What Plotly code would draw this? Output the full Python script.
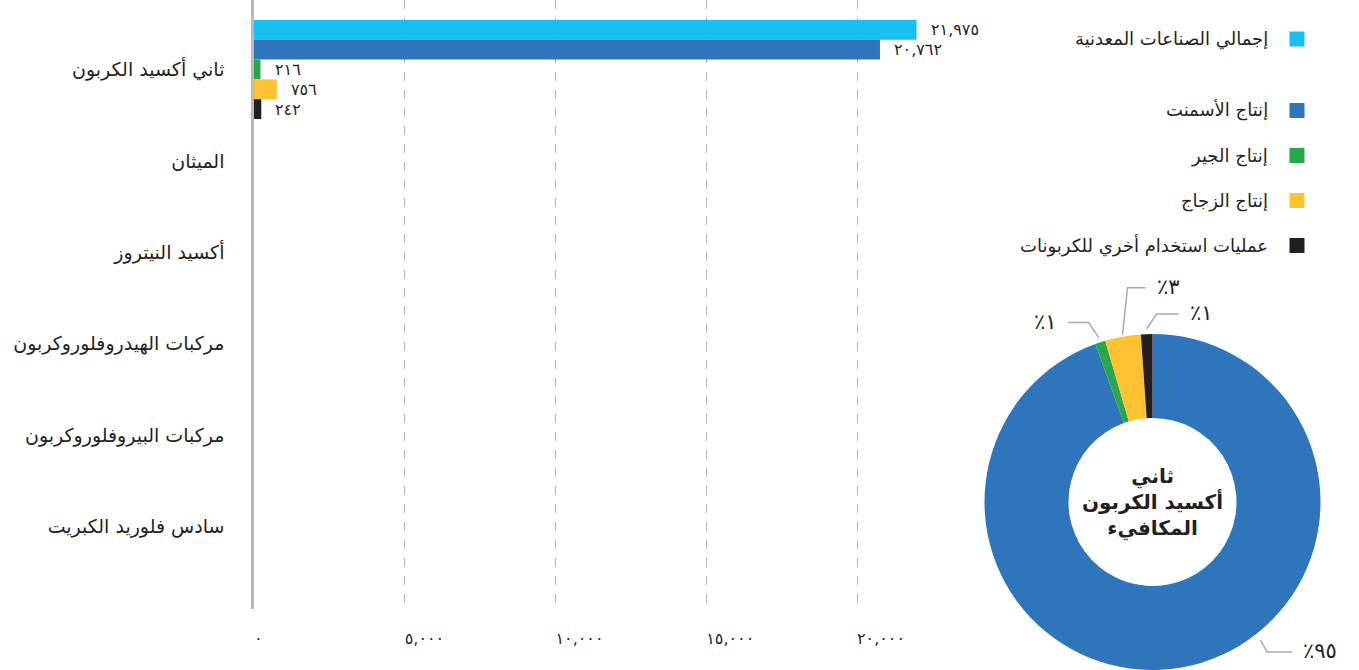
import math
import plotly.graph_objects as go

# ---------------- data ----------------
categories = [
    "ثاني أكسيد الكربون",
    "الميثان",
    "أكسيد النيتروز",
    "مركبات الهيدروفلوروكربون",
    "مركبات البيروفلوروكربون",
    "سادس فلوريد الكبريت",
]
series_names = [
    "إجمالي الصناعات المعدنية",
    "إنتاج الأسمنت",
    "إنتاج الجير",
    "إنتاج الزجاج",
    "عمليات استخدام أخري للكربونات",
]
total_values = [21975, None, None, None, None, None]
cement_values = [20762, None, None, None, None, None]
lime_values = [216, None, None, None, None, None]
glass_values = [756, None, None, None, None, None]
other_values = [242, None, None, None, None, None]

x_tick_values = [0, 5000, 10000, 15000, 20000]
x_tick_labels = ["٠", "٥,٠٠٠", "١٠,٠٠٠", "١٥,٠٠٠", "٢٠,٠٠٠"]

pie_labels = series_names[1:]
pie_values = [cement_values[0], lime_values[0], glass_values[0], other_values[0]]
pie_pct_text = ["٪٩٥", "٪١", "٪٣", "٪١"]
center_text = "ثاني<br>أكسيد الكربون<br>المكافيء"

# ---------------- styles ----------------
W, H = 1359, 670
FONT = "DejaVu Sans"
TXT = "#231f20"
colors = ["#17c0f0", "#2e75bb", "#27a84a", "#fec231", "#231f20"]
all_series = [total_values, cement_values, lime_values, glass_values, other_values]

AR_DIGITS = str.maketrans("0123456789", "٠١٢٣٤٥٦٧٨٩")


def ar_num(v):
    return f"{v:,}".translate(AR_DIGITS)


def px(x, y):
    return x / W, 1 - y / H


# bar geometry (in category units)
unit_px = 91.4
bw = 19.8 / unit_px
off0 = (20 - 69.5) / unit_px

fig = go.Figure()

annotations = []
shapes = []

for k, (name, vals, col) in enumerate(zip(series_names, all_series, colors)):
    off = off0 + k * bw
    fig.add_trace(go.Bar(
        y=categories, x=vals, orientation="h", name=name,
        offset=off, width=bw,
        marker=dict(color=col, line=dict(width=0)),
        showlegend=False, xaxis="x", yaxis="y",
    ))
    for i, v in enumerate(vals):
        if v is None:
            continue
        annotations.append(dict(
            x=v, y=i + off + bw / 2, xref="x", yref="y",
            text=ar_num(v), showarrow=False, xanchor="left", yanchor="middle",
            xshift=12, font=dict(family=FONT, size=16, color=TXT),
        ))

# ---------------- pie ----------------
cx, cy, R = 1152.5, 502.0, 168.0
fig.add_trace(go.Pie(
    values=pie_values, labels=pie_labels, hole=0.5, sort=False,
    direction="clockwise", rotation=0,
    marker=dict(colors=colors[1:], line=dict(width=0)),
    textinfo="none", showlegend=False,
    domain=dict(x=[(cx - R) / W, (cx + R) / W], y=[0, 1 - (cy - R) / H]),
))

annotations.append(dict(
    x=px(cx, cy)[0], y=px(cx, cy)[1], xref="paper", yref="paper",
    text="<b>" + center_text + "</b>", showarrow=False,
    xanchor="center", yanchor="middle",
    font=dict(family=FONT, size=20, color=TXT),
))

# leader lines & percent labels
tot = sum(pie_values)
cum = 0
mids = []
for v in pie_values:
    mids.append((cum + v / 2) / tot * 360)
    cum += v
# per-slice label styling: (angle override, radial extra, elbow dx, dy, run, side)
label_style = [
    (142, 7, 7, 12, 25, 1),
    (None, 5, -10, -15, -21, -1),
    (None, 2, 5, -47, 18, 1),
    (None, 5, 10, -15, 22, 1),
]
for i, (ang, extra, ex, ey, run, side) in enumerate(label_style):
    th = math.radians(ang if ang is not None else mids[i])
    sx = cx + (R + extra) * math.sin(th)
    sy = cy - (R + extra) * math.cos(th)
    ex_, ey_ = sx + ex, sy + ey
    fx, fy = ex_ + run, ey_
    p0, p1, p2 = px(sx, sy), px(ex_, ey_), px(fx, fy)
    shapes.append(dict(
        type="path", xref="paper", yref="paper",
        path=f"M {p0[0]} {p0[1]} L {p1[0]} {p1[1]} L {p2[0]} {p2[1]}",
        line=dict(color="#a9a9a9", width=1.5), layer="above",
    ))
    tp = px(fx + 9 * side, fy - 1)
    annotations.append(dict(
        x=tp[0], y=tp[1], xref="paper", yref="paper", text=pie_pct_text[i],
        showarrow=False, xanchor="left" if side > 0 else "right",
        yanchor="middle", font=dict(family=FONT, size=21, color=TXT),
    ))

# ---------------- custom legend (RTL) ----------------
legend_y = [39, 110.5, 155.5, 200.5, 245.5]
for name, col, ly in zip(series_names, colors, legend_y):
    a, b = px(1289.5, ly - 7.5)
    c, d = px(1304.5, ly + 7.5)
    shapes.append(dict(type="rect", xref="paper", yref="paper",
                       x0=a, y0=b, x1=c, y1=d,
                       fillcolor=col, line=dict(width=0)))
    t = px(1270, ly)
    annotations.append(dict(
        x=t[0], y=t[1], xref="paper", yref="paper", text=name,
        showarrow=False, xanchor="right", yanchor="middle",
        font=dict(family=FONT, size=18, color=TXT),
    ))

x_left, x_right = 254, 960
x_max = (x_right - x_left) / (857 - 254) * 20000
y_bottom = 609
fig.update_layout(
    width=W, height=H,
    margin=dict(l=0, r=0, t=0, b=0),
    paper_bgcolor="white", plot_bgcolor="white",
    barmode="overlay",
    showlegend=False,
    font=dict(family=FONT, color=TXT),
    xaxis=dict(
        domain=[x_left / W, x_right / W], range=[0, x_max],
        tickvals=x_tick_values, ticktext=x_tick_labels,
        ticklabelposition="outside right", ticklabelstandoff=18,
        tickfont=dict(family=FONT, size=16, color=TXT),
        showgrid=True, gridcolor="#b5b5b5", griddash="dash", gridwidth=1,
        zeroline=False, showline=False, ticks="", automargin=False,
    ),
    yaxis=dict(
        domain=[1 - y_bottom / H, 1],
        range=[(y_bottom - 69.5) / unit_px, -69.5 / unit_px],
        showline=True, linecolor="#b9b9bd", linewidth=2.5,
        showgrid=False, zeroline=False, ticks="",
        ticklabelstandoff=23,
        tickfont=dict(family=FONT, size=19, color=TXT),
        automargin=False,
    ),
    annotations=annotations,
    shapes=shapes,
)

fig.write_html("out.html")
